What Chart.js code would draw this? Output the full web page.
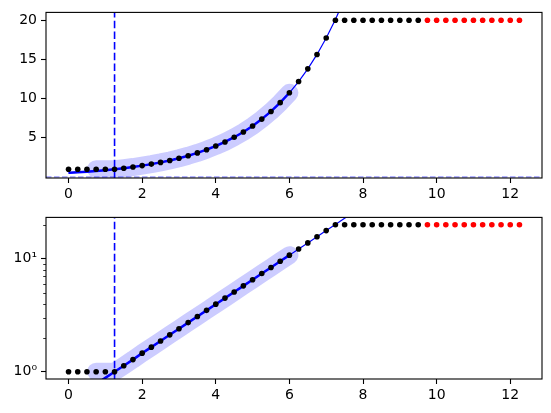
<!DOCTYPE html>
<html>
<head>
<meta charset="utf-8">
<script src="https://cdn.jsdelivr.net/npm/chart.js@4"></script>
<style>
    body { margin: 0; background: #fff; }
    #wrap { position: relative; width: 551px; height: 413px; }
    canvas { position: absolute; left: 0; }
</style>
</head>
<body>
<div id="wrap">
    <canvas id="top-chart" width="551" height="205" style="top:0"></canvas>
    <canvas id="bottom-chart" width="551" height="208" style="top:205px"></canvas>
</div>
<script>
// 数据
const blackX = [0, 0.25, 0.5, 0.75, 1, 1.25, 1.5, 1.75, 2, 2.25, 2.5, 2.75, 3, 3.25, 3.5, 3.75, 4, 4.25, 4.5, 4.75,
    5, 5.25, 5.5, 5.75, 6, 6.25, 6.5, 6.75, 7, 7.25, 7.5, 7.75, 8, 8.25, 8.5, 8.75, 9, 9.25, 9.5];
const blackY = [1, 1, 1, 1, 1, 1.00, 1.13, 1.28, 1.46, 1.65, 1.87, 2.12, 2.40, 2.72, 3.08, 3.49, 3.96, 4.48, 5.08, 5.75,
    6.52, 7.39, 8.37, 9.49, 10.75, 12.18, 13.80, 15.64, 17.73, 20, 20, 20, 20, 20, 20, 20, 20, 20, 20];
const redX = [9.75, 10, 10.25, 10.5, 10.75, 11, 11.25, 11.5, 11.75, 12, 12.25];
const redY = [20, 20, 20, 20, 20, 20, 20, 20, 20, 20, 20];

// 拟合曲线
const fitX = [0, 0.25, 0.5, 0.75, 1, 1.25, 1.5, 1.75, 2, 2.25, 2.5, 2.75, 3, 3.25, 3.5, 3.75, 4, 4.25, 4.5, 4.75,
    5, 5.25, 5.5, 5.75, 6, 6.25, 6.5, 6.75, 7, 7.25, 7.5, 7.75, 8];
const fitY = [0.535, 0.607, 0.687, 0.779, 0.882, 1.00, 1.13, 1.28, 1.46, 1.65, 1.87, 2.12, 2.40, 2.72, 3.08, 3.49, 3.96, 4.48, 5.08, 5.75,
    6.52, 7.39, 8.37, 9.49, 10.75, 12.18, 13.80, 15.64, 17.73, 20.09, 22.76, 25.79, 29.22];

const fitStart = 0.75;
const fitEnd = 6;
const threshold = 1.25;

const xTicks = [0, 2, 4, 6, 8, 10, 12];
const yTicksTop = [5, 10, 15, 20];
const yTicksLog = [1, 10];
const yMinorLog = [2, 3, 4, 5, 6, 7, 8, 9, 20];
const logLabels = { 1: '10⁰', 10: '10¹' };

const xMin = -0.6125, xMax = 12.8625;

Chart.defaults.font.family = "'DejaVu Sans', sans-serif";
Chart.defaults.font.size = 14;
Chart.defaults.color = '#000';

const pts = (xs, ys) => xs.map((x, i) => ({ x: x, y: ys[i] }));

// 边框和次刻度
const framePlugin = {
    id: 'frame',
    afterDraw(chart) {
        const { ctx, chartArea: a } = chart;
        const y = chart.scales.y;
        ctx.save();
        ctx.strokeStyle = '#000';
        if (y.type === 'logarithmic') {
            ctx.lineWidth = 0.8;
            yMinorLog.forEach(v => {
                const p = Math.round(y.getPixelForValue(v)) + 0.5;
                ctx.beginPath();
                ctx.moveTo(a.left, p);
                ctx.lineTo(a.left - 2.8, p);
                ctx.stroke();
            });
        }
        ctx.lineWidth = 1.1;
        ctx.strokeRect(a.left, a.top, a.right - a.left, a.bottom - a.top);
        ctx.restore();
    }
};

function makeChart(id, yOpts, yMin, yMax, padTop, xAxisHeight, isTop) {
    const datasets = [
        {
            data: pts(blackX, blackY),
            showLine: false, pointRadius: 2.8, pointBorderWidth: 0,
            pointBackgroundColor: '#000', order: 0
        },
        {
            data: pts(redX, redY),
            showLine: false, pointRadius: 2.8, pointBorderWidth: 0,
            pointBackgroundColor: '#ff0000', order: 0
        },
        {
            data: pts(fitX, fitY),
            showLine: true, pointRadius: 0, borderColor: '#0000ff', borderWidth: 1.2,
            clip: 0, order: 2
        },
        {
            data: pts(fitX, fitY).filter(p => p.x <= fitEnd),
            showLine: true, pointRadius: 0, borderColor: '#0000ff', borderWidth: 2.5,
            clip: 0, order: 1
        },
        {
            data: pts([threshold, threshold], [yMin, yMax]),
            showLine: true, pointRadius: 0, borderColor: '#0000ff', borderWidth: 1.6,
            borderDash: [7.5, 3.2], clip: 0, order: 3
        },
        {
            data: pts(blackX, blackY).filter(p => p.x >= fitStart && p.x <= fitEnd),
            showLine: true, pointRadius: 0, borderColor: 'rgba(0,0,255,0.2)', borderWidth: 18,
            borderCapStyle: 'round', borderJoinStyle: 'round', order: 5
        }
    ];
    if (isTop) {
        datasets.push({
            data: pts([xMin, xMax], [0, 0]),
            showLine: true, pointRadius: 0, borderColor: 'rgba(0,0,255,0.4)', borderWidth: 1.4,
            borderDash: [5.5, 2.5], clip: 0, order: 4
        });
    }

    return new Chart(document.getElementById(id), {
        type: 'scatter',
        data: { datasets: datasets },
        options: {
            responsive: false,
            animation: false,
            devicePixelRatio: 1,
            layout: { padding: { top: padTop, right: 9, left: 0, bottom: 0 } },
            plugins: { legend: { display: false }, tooltip: { enabled: false } },
            scales: {
                x: {
                    type: 'linear', min: xMin, max: xMax,
                    afterBuildTicks: s => { s.ticks = xTicks.map(v => ({ value: v })); },
                    afterFit: s => { s.height = xAxisHeight; },
                    ticks: { padding: 3, maxRotation: 0, callback: v => String(v) },
                    grid: { drawOnChartArea: false, tickLength: 5, tickColor: '#000', tickWidth: 1.1 },
                    border: { display: false }
                },
                y: Object.assign({
                    min: yMin, max: yMax,
                    afterFit: s => { s.width = 46; },
                    grid: { drawOnChartArea: false, tickLength: 5, tickColor: '#000', tickWidth: 1.1 },
                    border: { display: false }
                }, yOpts)
            }
        },
        plugins: [framePlugin]
    });
}

// 线性坐标
makeChart('top-chart', {
    type: 'linear',
    afterBuildTicks: s => { s.ticks = yTicksTop.map(v => ({ value: v })); },
    ticks: { padding: 4, callback: v => String(v) }
}, -0.12, 21, 10, 27, true);

// 对数坐标
makeChart('bottom-chart', {
    type: 'logarithmic',
    afterBuildTicks: s => { s.ticks = yTicksLog.map(v => ({ value: v })); },
    ticks: { padding: 4, callback: v => logLabels[v] || '' }
}, 0.862, 23.2, 7, 34, false);
</script>
</body>
</html>
